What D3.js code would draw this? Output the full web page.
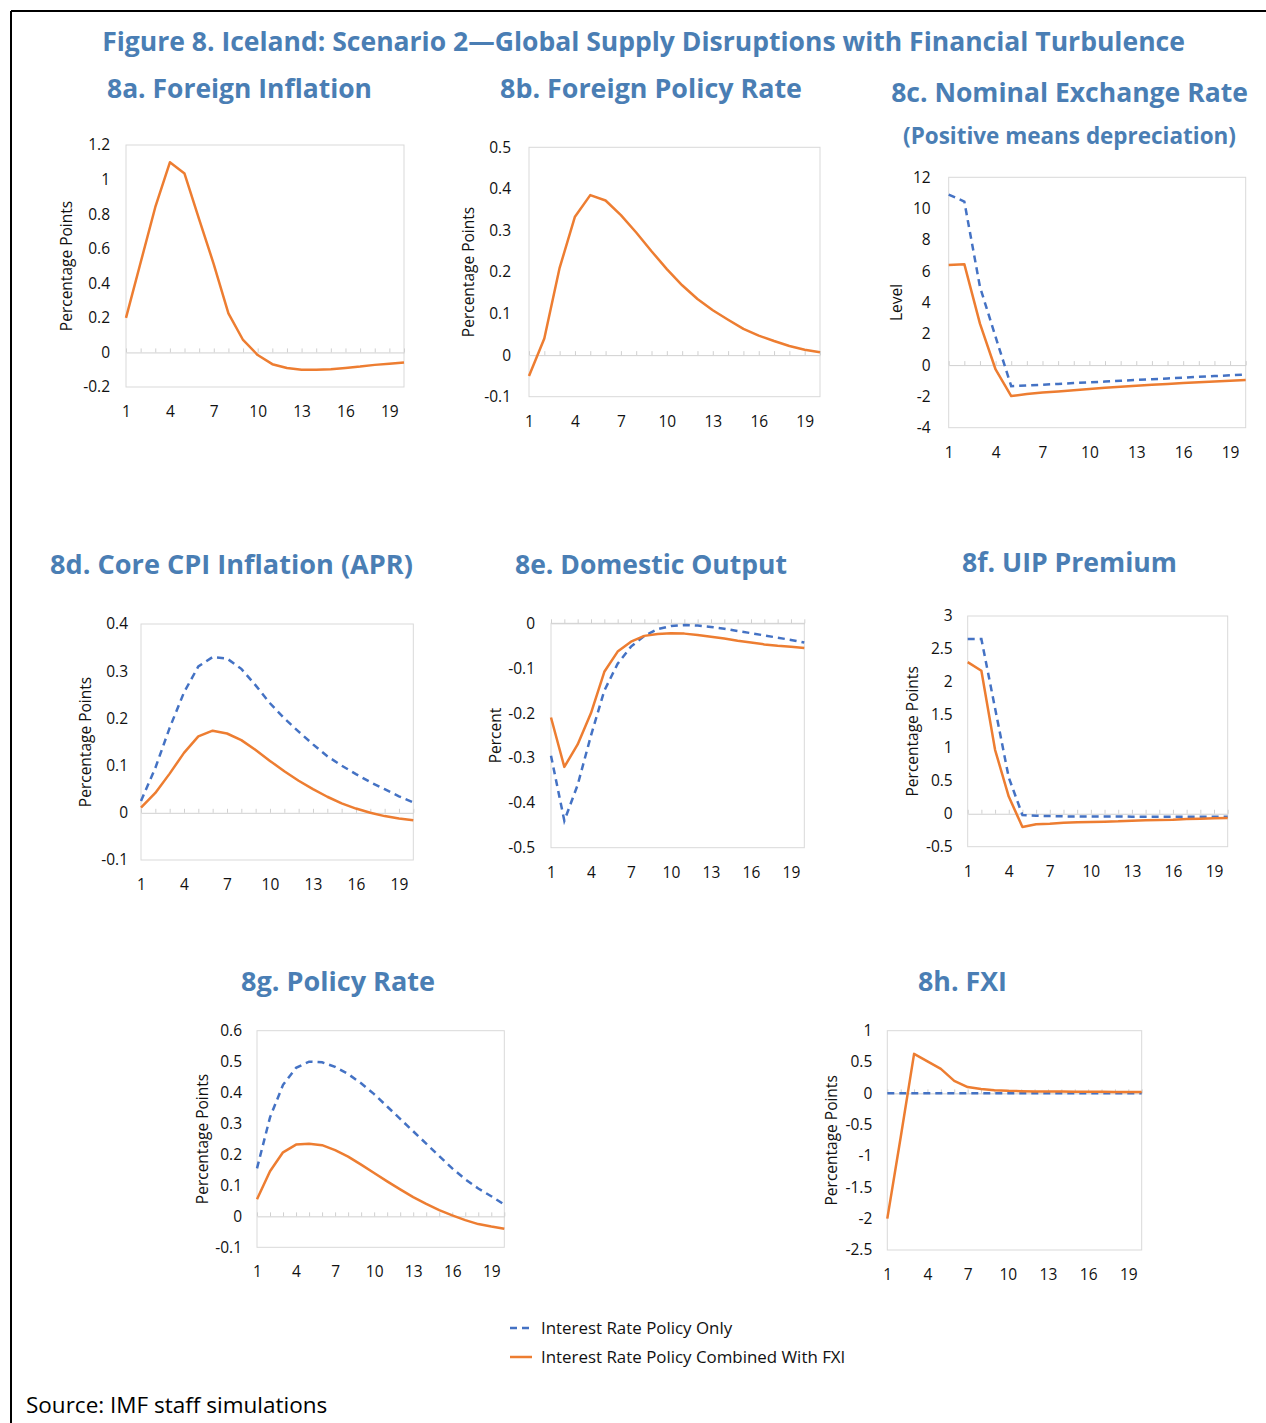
<!DOCTYPE html>
<html>
<head>
<meta charset="utf-8">
<script src="https://cdn.jsdelivr.net/npm/d3@7"></script>
<style>
  body { margin: 0; background: #fff; }
  svg { display: block; font-family: "Open Sans", "Noto Sans", sans-serif; }
</style>
</head>
<body>
<svg id="chart" width="1266" height="1423"></svg>
<script>
// ---------------- DATA ----------------
const periods = [1,2,3,4,5,6,7,8,9,10,11,12,13,14,15,16,17,18,19,20];
const xTickLabels = [1,4,7,10,13,16,19];
const seriesNames = ["Interest Rate Policy Only", "Interest Rate Policy Combined With FXI"];

// 8a Foreign Inflation (single series)
const foreignInflationFXI = [0.2,0.52,0.84,1.1,1.035,0.77,0.51,0.226,0.072,-0.015,-0.068,-0.09,-0.1,-0.1,-0.097,-0.09,-0.082,-0.072,-0.065,-0.058];
const foreignInflationTicks = [-0.2,0,0.2,0.4,0.6,0.8,1,1.2];

// 8b Foreign Policy Rate (single series)
const foreignRateFXI = [-0.05,0.04,0.21,0.333,0.385,0.372,0.337,0.295,0.25,0.207,0.168,0.135,0.108,0.085,0.063,0.047,0.034,0.022,0.013,0.007];
const foreignRateTicks = [-0.1,0,0.1,0.2,0.3,0.4,0.5];

// 8c Nominal Exchange Rate
const exchangeRateOnly = [10.9,10.45,5.0,1.8,-1.35,-1.3,-1.25,-1.2,-1.15,-1.1,-1.05,-1.0,-0.95,-0.9,-0.85,-0.8,-0.75,-0.7,-0.65,-0.6];
const exchangeRateFXI = [6.4,6.45,2.65,-0.28,-1.98,-1.85,-1.75,-1.68,-1.6,-1.52,-1.45,-1.38,-1.32,-1.25,-1.2,-1.15,-1.1,-1.05,-1.0,-0.95];
const exchangeRateTicks = [-4,-2,0,2,4,6,8,10,12];

// 8d Core CPI Inflation (APR)
const coreCPIOnly = [0.025,0.095,0.18,0.255,0.31,0.33,0.327,0.305,0.27,0.232,0.2,0.172,0.145,0.12,0.1,0.082,0.065,0.05,0.035,0.022];
const coreCPIFXI = [0.011,0.042,0.083,0.127,0.162,0.174,0.168,0.154,0.133,0.11,0.088,0.068,0.05,0.034,0.02,0.009,0.0,-0.007,-0.012,-0.016];
const coreCPITicks = [-0.1,0,0.1,0.2,0.3,0.4];

// 8e Domestic Output
const outputOnly = [-0.295,-0.44,-0.36,-0.25,-0.15,-0.09,-0.052,-0.028,-0.013,-0.006,-0.004,-0.005,-0.008,-0.012,-0.017,-0.022,-0.027,-0.032,-0.037,-0.043];
const outputFXI = [-0.21,-0.32,-0.27,-0.2,-0.108,-0.063,-0.041,-0.028,-0.024,-0.022,-0.023,-0.026,-0.03,-0.034,-0.039,-0.043,-0.047,-0.05,-0.052,-0.055];
const outputTicks = [-0.5,-0.4,-0.3,-0.2,-0.1,0];

// 8f UIP Premium
const uipOnly = [2.65,2.65,1.6,0.55,-0.02,-0.03,-0.035,-0.04,-0.04,-0.04,-0.04,-0.04,-0.045,-0.045,-0.045,-0.045,-0.045,-0.045,-0.045,-0.045];
const uipFXI = [2.3,2.17,0.97,0.26,-0.2,-0.16,-0.15,-0.135,-0.13,-0.125,-0.12,-0.115,-0.105,-0.1,-0.095,-0.09,-0.08,-0.075,-0.07,-0.065];
const uipTicks = [-0.5,0,0.5,1,1.5,2,2.5,3];

// 8g Policy Rate
const policyRateOnly = [0.155,0.32,0.425,0.48,0.5,0.498,0.483,0.46,0.43,0.395,0.355,0.315,0.275,0.235,0.195,0.155,0.12,0.09,0.065,0.038];
const policyRateFXI = [0.055,0.146,0.207,0.232,0.235,0.23,0.214,0.193,0.167,0.14,0.113,0.087,0.062,0.04,0.02,0.003,-0.012,-0.025,-0.033,-0.04];
const policyRateTicks = [-0.1,0,0.1,0.2,0.3,0.4,0.5,0.6];

// 8h FXI
const fxiOnly = [0,0,0,0,0,0,0,0,0,0,0,0,0,0,0,0,0,0,0,0];
const fxiFXI = [-2.0,-0.7,0.63,0.51,0.39,0.2,0.1,0.07,0.05,0.04,0.035,0.03,0.03,0.03,0.025,0.025,0.025,0.02,0.02,0.02];
const fxiTicks = [-2.5,-2,-1.5,-1,-0.5,0,0.5,1];

// ---------------- STYLE / LAYOUT ----------------
const BLUE = "#4472C4", ORANGE = "#ED7D31", TITLE = "#4a7eb4", INK = "#111";

const panels = [
  {only:null, fxi:foreignInflationFXI, ticks:foreignInflationTicks, ylab:"Percentage Points",
   x0:126, x1:404, yTop:145, yBot:387, ylx:68, lgap:16},
  {only:null, fxi:foreignRateFXI, ticks:foreignRateTicks, ylab:"Percentage Points",
   x0:529, x1:820, yTop:147.3, yBot:396.7, ylx:470, lgap:18},
  {only:exchangeRateOnly, fxi:exchangeRateFXI, ticks:exchangeRateTicks, ylab:"Level",
   x0:948.7, x1:1245.7, yTop:177.3, yBot:427.7, ylx:898, lgap:18},
  {only:coreCPIOnly, fxi:coreCPIFXI, ticks:coreCPITicks, ylab:"Percentage Points",
   x0:141, x1:413.3, yTop:624, yBot:860, ylx:87, lgap:13},
  {only:outputOnly, fxi:outputFXI, ticks:outputTicks, ylab:"Percent",
   x0:551, x1:804.3, yTop:623.3, yBot:847.7, ylx:497, lgap:16},
  {only:uipOnly, fxi:uipFXI, ticks:uipTicks, ylab:"Percentage Points",
   x0:967.7, x1:1227.7, yTop:616, yBot:846.7, ylx:914, lgap:15},
  {only:policyRateOnly, fxi:policyRateFXI, ticks:policyRateTicks, ylab:"Percentage Points",
   x0:257, x1:504.3, yTop:1030.7, yBot:1247.3, ylx:204, lgap:15},
  {only:fxiOnly, fxi:fxiFXI, ticks:fxiTicks, ylab:"Percentage Points",
   x0:887.3, x1:1141.7, yTop:1030.7, yBot:1250, ylx:833, lgap:15}
];

const titles = [
  {t:"Figure 8. Iceland: Scenario 2\u2014Global Supply Disruptions with Financial Turbulence", cx:643.5, y:51, w:1083, fs:26},
  {t:"8a. Foreign Inflation", cx:239.5, y:98, w:265, fs:26},
  {t:"8b. Foreign Policy Rate", cx:651, y:98, w:302, fs:26},
  {t:"8c. Nominal Exchange Rate", cx:1069.5, y:102, w:357, fs:26},
  {t:"(Positive means depreciation)", cx:1069.5, y:144, w:333, fs:22},
  {t:"8d. Core CPI Inflation (APR)", cx:231.5, y:574, w:363, fs:26},
  {t:"8e. Domestic Output", cx:651, y:574, w:272, fs:26},
  {t:"8f. UIP Premium", cx:1069.5, y:572, w:215, fs:26},
  {t:"8g. Policy Rate", cx:338, y:991, w:194, fs:26},
  {t:"8h. FXI", cx:962.5, y:991, w:89, fs:26}
];

const svg = d3.select("#chart");

// frame
svg.append("line").attr("x1",11).attr("x2",1266).attr("y1",11).attr("y2",11)
  .attr("stroke","#000").attr("stroke-width",2);
svg.append("line").attr("x1",11).attr("x2",11).attr("y1",11).attr("y2",1423)
  .attr("stroke","#000").attr("stroke-width",2);

// titles
titles.forEach(d => {
  const t = svg.append("text").attr("x", d.cx).attr("y", d.y)
    .attr("text-anchor","middle").attr("fill", TITLE)
    .attr("font-weight","bold").attr("font-size", d.fs).text(d.t);
  const w = t.node().getComputedTextLength();
  if (w > 0) t.attr("font-size", d.fs * d.w / w);
});

// panels
panels.forEach(p => {
  const g = svg.append("g");
  const x = d3.scalePoint().domain(periods).range([p.x0, p.x1]).padding(0);
  const y = d3.scaleLinear().domain([d3.min(p.ticks), d3.max(p.ticks)]).range([p.yBot, p.yTop]);

  g.append("rect").attr("x", p.x0).attr("y", p.yTop)
    .attr("width", p.x1 - p.x0).attr("height", p.yBot - p.yTop)
    .attr("fill","none").attr("stroke","#d9d9d9").attr("stroke-width",1);

  // y tick labels
  const ya = g.append("g").attr("transform", `translate(${p.x0},0)`)
    .call(d3.axisLeft(y).tickValues(p.ticks).tickSize(0).tickPadding(p.lgap)
      .tickFormat(v => String(+v.toFixed(4))));
  ya.select(".domain").remove();
  ya.selectAll("text").attr("font-size",15.5).attr("fill",INK)
    .style("font-family",'"Open Sans", sans-serif');

  // x tick labels below plot area
  const xa = g.append("g").attr("transform", `translate(0,${p.yBot})`)
    .call(d3.axisBottom(x).tickValues(xTickLabels).tickSize(0).tickPadding(19));
  xa.select(".domain").remove();
  xa.selectAll("text").attr("font-size",15.5).attr("fill",INK)
    .style("font-family",'"Open Sans", sans-serif');

  // zero line with category ticks
  const za = g.append("g").attr("transform", `translate(0,${y(0)})`)
    .call(d3.axisTop(x).tickSize(4).tickSizeOuter(0).tickFormat(""));
  za.select(".domain").attr("stroke","#d0d0d0");
  za.selectAll(".tick line").attr("stroke","#d0d0d0");

  // y label
  g.append("text")
    .attr("transform", `translate(${p.ylx},${(p.yTop + p.yBot)/2}) rotate(-90)`)
    .attr("text-anchor","middle").attr("dominant-baseline","middle")
    .attr("font-size",15.5).attr("fill",INK).text(p.ylab);

  const line = d3.line().x((d,i) => x(periods[i])).y(d => y(d));
  if (p.only) {
    g.append("path").datum(p.only).attr("d", line)
      .attr("fill","none").attr("stroke", BLUE).attr("stroke-width",2.5)
      .attr("stroke-dasharray","7,5");
  }
  g.append("path").datum(p.fxi).attr("d", line)
    .attr("fill","none").attr("stroke", ORANGE).attr("stroke-width",2.5)
    .attr("stroke-linejoin","round");
});

// legend
const lg = svg.append("g");
lg.append("line").attr("x1",510).attr("x2",532).attr("y1",1328).attr("y2",1328)
  .attr("stroke",BLUE).attr("stroke-width",2.5).attr("stroke-dasharray","7,5");
lg.append("text").attr("x",541).attr("y",1334).attr("font-size",16.9).attr("fill",INK).text(seriesNames[0]);
lg.append("line").attr("x1",510).attr("x2",532).attr("y1",1357).attr("y2",1357)
  .attr("stroke",ORANGE).attr("stroke-width",2.5);
lg.append("text").attr("x",541).attr("y",1363).attr("font-size",16.9).attr("fill",INK).text(seriesNames[1]);

// source
svg.append("text").attr("x",26).attr("y",1413).attr("font-size",22.5).attr("fill","#000")
  .text("Source: IMF staff simulations");
</script>
</body>
</html>
